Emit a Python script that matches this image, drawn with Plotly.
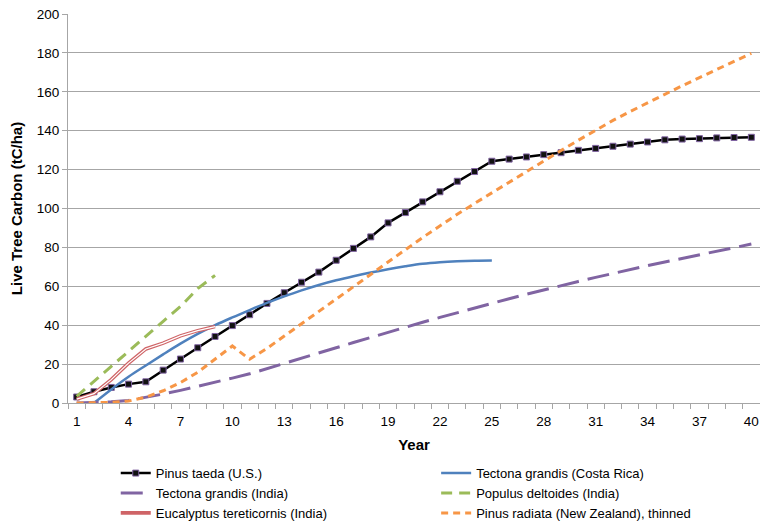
import plotly.graph_objects as go

years = list(range(1, 41))

pinus_taeda = [3.1, 5.8, 8.0, 9.7, 10.9, 16.9, 22.6, 28.4, 34.2, 39.8,
               45.4, 51.2, 56.7, 62.1, 67.3, 73.4, 79.5, 85.4, 92.6, 97.9,
               103.4, 108.6, 114.0, 119.0, 124.3, 125.4, 126.5, 127.7, 128.7, 129.9,
               130.9, 132.0, 133.1, 134.2, 135.3, 135.7, 135.9, 136.3, 136.5, 136.6]

teak_cr_years = list(range(2, 26))
teak_costa_rica = [0.0, 7.0, 13.5, 19.3, 25.0, 30.5, 35.5, 40.0, 44.0, 47.8,
                   51.5, 54.8, 57.9, 60.7, 63.1, 65.2, 67.1, 68.8, 70.3, 71.6,
                   72.4, 72.9, 73.2, 73.3]

teak_india = [0.0, 0.2, 0.6, 1.3, 2.8, 4.6, 6.5, 8.5, 10.6, 12.8,
              15.0, 17.6, 20.3, 23.0, 25.7, 28.4, 31.1, 33.8, 36.4, 39.0,
              41.5, 44.0, 46.5, 48.9, 51.3, 53.6, 55.9, 58.2, 60.4, 62.5,
              64.6, 66.7, 68.7, 70.6, 72.5, 74.4, 76.3, 78.1, 79.9, 81.7]

short_years = list(range(1, 10))
populus = [3.4, 11.2, 19.0, 26.8, 34.4, 42.0, 49.6, 58.8, 65.6]
eucalyptus = [2.0, 4.8, 12.0, 20.5, 27.8, 30.8, 34.5, 37.2, 39.3]

pinus_radiata = [0.0, 0.0, 0.3, 1.0, 3.0, 6.3, 10.5, 15.8, 22.5, 29.3,
                 22.5, 28.1, 34.4, 40.8, 47.1, 53.4, 59.8, 66.1, 72.4, 78.8,
                 85.1, 91.2, 97.0, 102.6, 108.1, 113.6, 119.0, 124.4, 129.8, 135.1,
                 140.4, 145.3, 149.9, 154.4, 158.8, 163.1, 167.3, 171.5, 175.7, 179.8]

x_tick_vals = list(range(1, 41, 3))
y_tick_vals = list(range(0, 201, 20))

FONT = "Liberation Sans"
GRID = "#A6A6A6"

fig = go.Figure()

# left legend column: legend, right legend column: legend2
fig.add_trace(go.Scatter(
    x=years, y=pinus_taeda, name="Pinus taeda (U.S.)", mode="lines+markers",
    legend="legend", legendgroup="a",
    line=dict(color="#000000", width=2.5),
    marker=dict(symbol="square", size=6, color="#111111",
                line=dict(color="#8064A2", width=1)),
))
fig.add_trace(go.Scatter(
    x=teak_cr_years, y=teak_costa_rica, name="Tectona grandis (Costa Rica)",
    legend="legend2", legendgroup="b",
    mode="lines", line=dict(color="#4F81BD", width=2.5, shape="spline"),
))
fig.add_trace(go.Scatter(
    x=years, y=teak_india, name="Tectona grandis (India)", mode="lines",
    legend="legend", legendgroup="c",
    line=dict(color="#8064A2", width=3, dash="22px,9px"),
))
fig.add_trace(go.Scatter(
    x=short_years, y=populus, name="Populus deltoides (India)", mode="lines",
    legend="legend2", legendgroup="d",
    line=dict(color="#9BBB59", width=3, dash="11px,7px"),
))
# double-stroke line: red body with a thin white core
fig.add_trace(go.Scatter(
    x=short_years, y=eucalyptus, name="Eucalyptus tereticornis (India)",
    legend="legend", legendgroup="e",
    mode="lines", line=dict(color="#CF6467", width=3.6),
))
fig.add_trace(go.Scatter(
    x=short_years, y=eucalyptus, showlegend=False, hoverinfo="skip",
    legendgroup="e",
    mode="lines", line=dict(color="#FFFFFF", width=1.2),
))
fig.add_trace(go.Scatter(
    x=years, y=pinus_radiata, name="Pinus radiata (New Zealand), thinned",
    legend="legend2", legendgroup="f",
    mode="lines", line=dict(color="#F79646", width=3, dash="7px,5px"),
))

legend_common = dict(
    orientation="v", xref="paper", yref="container",
    xanchor="left", yanchor="top", y=0.124,
    font=dict(family=FONT, size=13, color="#000000"),
    traceorder="normal", tracegroupgap=1, itemwidth=30,
    bgcolor="rgba(0,0,0,0)",
)

fig.update_layout(
    width=760, height=523,
    margin=dict(l=68, r=0, t=14, b=120),
    paper_bgcolor="white", plot_bgcolor="white",
    font=dict(family=FONT, size=13, color="#000000"),
    legend=dict(x=0.069, **legend_common),
    legend2=dict(x=0.532, **legend_common),
)

fig.update_xaxes(
    range=[0.5, 40.5], tickvals=x_tick_vals,
    ticks="outside", ticklen=6, tickcolor="rgba(0,0,0,0)",
    tickfont=dict(size=13.5),
    showline=True, linecolor=GRID, linewidth=1,
    showgrid=False, zeroline=False,
    minor=dict(tick0=0.5, dtick=1, ticks="outside", ticklen=5,
               tickcolor=GRID, tickwidth=1, showgrid=False),
    title=dict(text="<b>Year</b>", font=dict(size=15), standoff=11),
)
fig.update_yaxes(
    range=[0, 200], tickvals=y_tick_vals,
    ticks="outside", ticklen=5, tickcolor=GRID,
    tickfont=dict(size=13.5),
    showline=True, linecolor=GRID, linewidth=1,
    showgrid=True, gridcolor=GRID, gridwidth=1, zeroline=False,
    title=dict(text="<b>Live Tree Carbon (tC/ha)</b>", font=dict(size=15), standoff=10),
)

fig.write_html("out.html")
